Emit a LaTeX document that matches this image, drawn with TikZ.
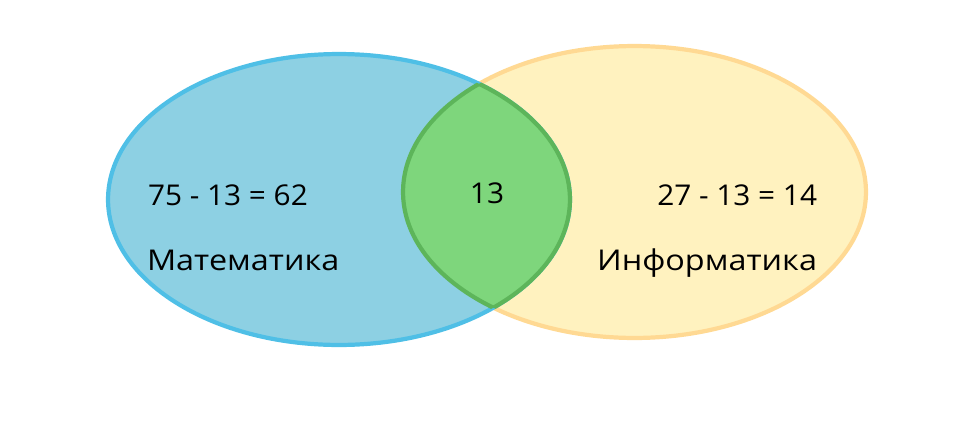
\documentclass[tikz,border=0pt]{standalone}
\usepackage{fontspec}
\setmainfont[FakeStretch=1.13]{Open Sans}
\newfontfamily\vennnumfont[FakeStretch=1.04]{Open Sans}
\usepackage{tikz}
\usetikzlibrary{positioning}
\definecolor{vennBlueFill}{HTML}{8DD0E3}
\definecolor{vennBlueEdge}{HTML}{4FBFE6}
\definecolor{vennYellowFill}{HTML}{FFF2BF}
\definecolor{vennYellowEdge}{HTML}{FFD993}
\definecolor{vennGreenFill}{HTML}{7ED67C}
\definecolor{vennGreenEdge}{HTML}{5DB55A}
\tikzset{
 venn math shape/.style={x radius=4.62cm,y radius=2.91cm},
 venn info shape/.style={x radius=4.63cm,y radius=2.92cm},
 venn math/.style={fill=vennBlueFill,draw=vennBlueEdge,line width=2.4pt},
 venn info/.style={fill=vennYellowFill,draw=vennYellowEdge,line width=2.4pt},
 venn both/.style={fill=vennGreenFill,draw=vennGreenEdge,line width=2.4pt},
 venn both edge/.style={draw=vennGreenEdge,line width=2.4pt},
 venn label/.style={inner sep=0pt,outer sep=0pt,text=black,
                    font=\fontsize{16.3}{19}\selectfont},
 venn count/.style={venn label,font=\fontsize{16.3}{19}\vennnumfont}
}
\begin{document}
\begin{tikzpicture}[x=0.02cm,y=-0.02cm]
 \useasboundingbox (0,0) rectangle (974,423);
 % sets
 \coordinate (math) at (339,199.5);
 \coordinate (info) at (634.5,192);
 \path[venn info] (info) ellipse [venn info shape];
 \path[venn math] (math) ellipse [venn math shape];
 % overlap
 \begin{scope}
   \clip (math) ellipse [venn math shape];
   \path[venn both] (info) ellipse [venn info shape];
 \end{scope}
 \begin{scope}
   \clip (info) ellipse [venn info shape];
   \path[venn both edge] (math) ellipse [venn math shape];
 \end{scope}
 % labels
 \node[venn count,anchor=base west] (mathcount) at (148,205) {75 - 13 = 62};
 \node[venn label,anchor=base west] (mathname) at (147,270) {Математика};
 \node[venn count] (bothcount) at (487,193) {13};
 \node[venn count,anchor=base east] (infocount) at (817,205) {27 - 13 = 14};
 \node[venn label,anchor=base east] (infoname) at (817,270) {Информатика};
\end{tikzpicture}
\end{document}
